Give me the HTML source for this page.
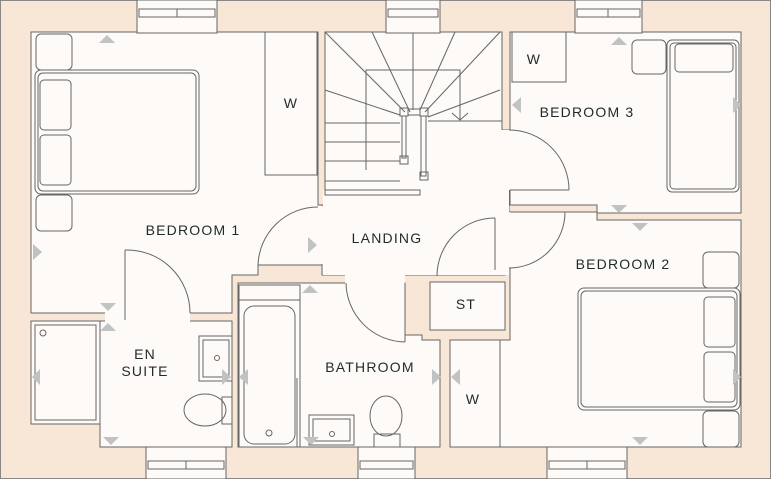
<!DOCTYPE html>
<html><head><meta charset="utf-8"><style>
html,body{margin:0;padding:0;background:#f8e7d7}
svg{display:block}
text{font-family:"Liberation Sans",sans-serif;font-size:14px;fill:#1f2b2b;letter-spacing:1.2px;text-anchor:middle}
</style></head><body>
<svg width="771" height="479" viewBox="0 0 771 479" xmlns="http://www.w3.org/2000/svg">
<rect x="0" y="0" width="771" height="479" fill="#f8e7d7"/>
<rect x="0.5" y="0.5" width="770" height="478" fill="none" stroke="#888" stroke-width="1"/>
<g fill="#fdfaf7" stroke="#666" stroke-width="1">
<path d="M31 32 H318 V205 H322 V265 H258 V275 H232 V313 H31 Z"/>
<path d="M325 32 H502 V130 H509 V268 H505 V275 H322 V205 H325 Z" />
<path d="M510 32 H741 V213 H597 V205 H510 Z"/>
<path d="M510 212 H597 V220 H741 V447 H450 V340 H510 Z"/>
<path d="M31 321 H232 V447 H100 V424 H31 Z"/>
<path d="M238 283 H345 V283 H405 V335 H422 V340 H440 V447 H238 Z"/>
<rect x="430" y="282" width="75" height="48"/>
</g>
<rect x="323" y="190" width="186" height="85" fill="#fdfaf7"/>
<rect x="260" y="206" width="70" height="58" fill="#fdfaf7"/>
<rect x="345" y="270" width="60" height="20" fill="#fdfaf7"/>
<rect x="105" y="312" width="85" height="10" fill="#fdfaf7"/>
<rect x="500" y="130" width="14" height="60" fill="#fdfaf7"/>
<rect x="500" y="212" width="14" height="56" fill="#fdfaf7"/>
<g fill="none" stroke="#666" stroke-width="1">
<rect x="265" y="32" width="52" height="143"/>
<rect x="512" y="32" width="54" height="50"/>
<rect x="450" y="340" width="50" height="107"/>
<rect x="35" y="70" width="164" height="124" rx="6"/>
<rect x="38" y="73" width="158" height="118" rx="5"/>
<rect x="36" y="34" width="36" height="36" rx="5"/>
<rect x="36" y="195" width="36" height="36" rx="5"/>
<rect x="40" y="80" width="31" height="50" rx="4"/>
<rect x="40" y="135" width="31" height="50" rx="4"/>
<rect x="667" y="40" width="72" height="152" rx="5"/>
<rect x="670" y="43" width="66" height="146" rx="4"/>
<rect x="632" y="40" width="34" height="34" rx="5"/>
<rect x="675" y="44" width="58" height="28" rx="4"/>
<rect x="578" y="288" width="162" height="122" rx="6"/>
<rect x="581" y="291" width="156" height="116" rx="5"/>
<rect x="703" y="252" width="36" height="36" rx="5"/>
<rect x="703" y="411" width="36" height="36" rx="5"/>
<rect x="704" y="297" width="31" height="50" rx="4"/>
<rect x="704" y="352" width="31" height="50" rx="4"/>
<rect x="31" y="321" width="69" height="103"/>
<rect x="35" y="325" width="61" height="95"/>
<circle cx="43" cy="333" r="3"/>
<rect x="199" y="336" width="33" height="45"/>
<rect x="203" y="340" width="26" height="37"/>
<circle cx="217" cy="358" r="2.5"/>
<ellipse cx="205" cy="410" rx="21" ry="16"/>
<rect x="222" y="397" width="10" height="27"/>
<rect x="239" y="285" width="61" height="162"/>
<line x1="239" y1="300" x2="300" y2="300"/>
<rect x="244" y="306" width="51" height="138" rx="10"/>
<circle cx="269" cy="433" r="3"/>
<line x1="297" y1="378" x2="297" y2="447"/>
<rect x="309" y="415" width="45" height="30"/>
<rect x="313" y="419" width="37" height="22"/>
<circle cx="332" cy="434" r="2.5"/>
<ellipse cx="386" cy="416" rx="16" ry="20"/>
<rect x="374" y="434" width="26" height="13"/>
<line x1="325" y1="32" x2="405" y2="112"/>
<line x1="372" y1="32" x2="410" y2="112"/>
<line x1="413" y1="32" x2="413" y2="110"/>
<line x1="455" y1="32" x2="420" y2="110"/>
<line x1="500" y1="32" x2="425" y2="112"/>
<line x1="325" y1="90" x2="400" y2="115"/>
<line x1="500" y1="90" x2="428" y2="117"/>
<path d="M366 170 V70 H460 V120"/>
<line x1="325" y1="123" x2="400" y2="123"/>
<line x1="325" y1="142" x2="400" y2="142"/>
<line x1="325" y1="161" x2="400" y2="161"/>
<line x1="325" y1="181" x2="400" y2="181"/>
<line x1="428" y1="121" x2="502" y2="121"/>
<path d="M452 113 L460 120 L468 113"/>
<rect x="400" y="108" width="8" height="8"/>
<rect x="420" y="108" width="8" height="8"/>
<rect x="408" y="109" width="12" height="6"/>
<rect x="402" y="116" width="4" height="42"/>
<rect x="421" y="116" width="5" height="60"/>
<rect x="400" y="156" width="8" height="8"/>
<rect x="420" y="172" width="8" height="8"/>
<rect x="325" y="190" width="95" height="5"/>
<path d="M318 207 A60 60 0 0 0 258 265"/>
<path d="M509 130 A60 60 0 0 1 569 190"/>
<path d="M509 268 A56 56 0 0 0 565 212"/>
<line x1="565" y1="212" x2="510" y2="212"/>
<line x1="569" y1="190" x2="510" y2="190"/>
<path d="M495 218 A58 58 0 0 0 437 276"/>
<line x1="495" y1="218" x2="495" y2="270"/>
<path d="M346 283 A60 60 0 0 0 405 342"/>
<line x1="405" y1="283" x2="405" y2="342"/>
<path d="M125 320 V250"/>
<path d="M125 250 A63 63 0 0 1 190 313"/>
<line x1="258" y1="265" x2="322" y2="265"/>
</g>
<g fill="#fdfaf7" stroke="#666" stroke-width="1">
<rect x="137" y="0" width="80" height="33"/>
<rect x="386" y="0" width="54" height="33"/>
<rect x="575" y="0" width="67" height="33"/>
<rect x="146" y="447" width="80" height="32"/>
<rect x="358" y="447" width="57" height="32"/>
<rect x="547" y="447" width="80" height="32"/>
</g>
<g fill="none" stroke="#666" stroke-width="1">
<rect x="139" y="9" width="76" height="8"/><line x1="177" y1="9" x2="177" y2="17"/>
<rect x="388" y="9" width="50" height="8"/>
<rect x="577" y="9" width="63" height="8"/><line x1="608" y1="9" x2="608" y2="17"/>
<rect x="148" y="461" width="76" height="8"/><line x1="186" y1="461" x2="186" y2="469"/>
<rect x="360" y="461" width="53" height="8"/>
<rect x="549" y="461" width="76" height="8"/><line x1="587" y1="461" x2="587" y2="469"/>
</g>
<g fill="#bfc3c2">
<polygon points="99,43 115,43 107,35"/>
<polygon points="33,244 33,260 42,252"/>
<polygon points="100,303 116,303 108,311"/>
<polygon points="100,331 116,331 108,323"/>
<polygon points="308,237 308,253 317,245"/>
<polygon points="302,293 318,293 310,285"/>
<polygon points="521,97 521,113 512,105"/>
<polygon points="611,45 627,45 619,37"/>
<polygon points="611,205 627,205 619,213"/>
<polygon points="733,97 733,113 741,105"/>
<polygon points="632,223 648,223 640,231"/>
<polygon points="632,437 648,437 640,445"/>
<polygon points="733,369 733,385 741,377"/>
<polygon points="40,369 40,385 32,377"/>
<polygon points="103,437 119,437 111,445"/>
<polygon points="222,369 222,385 231,377"/>
<polygon points="248,369 248,385 239,377"/>
<polygon points="432,369 432,385 441,377"/>
<polygon points="460,369 460,385 451,377"/>
<polygon points="303,437 319,437 311,445"/>
</g>
<text x="193" y="235">BEDROOM 1</text>
<text x="387" y="243">LANDING</text>
<text x="587" y="117">BEDROOM 3</text>
<text x="623" y="269">BEDROOM 2</text>
<text x="145" y="359">EN</text>
<text x="145" y="376">SUITE</text>
<text x="370" y="372">BATHROOM</text>
<text x="466" y="309">ST</text>
<text x="291" y="108">W</text>
<text x="534" y="64">W</text>
<text x="473" y="404">W</text>
</svg>
</body></html>
